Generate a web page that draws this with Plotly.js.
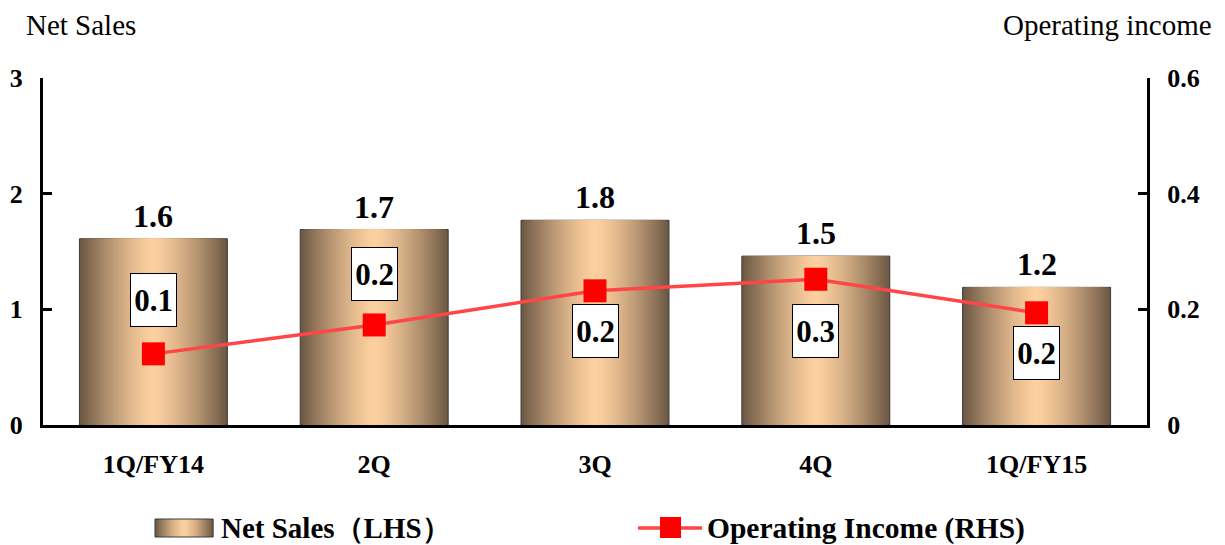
<!DOCTYPE html>
<html>
<head>
<meta charset="utf-8">
<script src="https://cdn.plot.ly/plotly-3.0.1.min.js"></script>
<style>
  html, body { margin: 0; padding: 0; background: #ffffff; }
  #chart { width: 1225px; height: 545px; }
</style>
</head>
<body>
<div id="chart"></div>
<script>
// Quarterly results
const categories = ['1Q/FY14', '2Q', '3Q', '4Q', '1Q/FY15'];
const netSales = [1.61, 1.69, 1.77, 1.46, 1.19];          // left axis
const operatingIncome = [0.123, 0.173, 0.232, 0.252, 0.194]; // right axis
const leftTicks = [0, 1, 2, 3];
const rightTicks = [0, 0.2, 0.4, 0.6];
const rightTickText = ['0', '0.2', '0.4', '0.6'];

// ---- styling ----
const SERIF = 'Liberation Serif, Times New Roman, serif';
const W = 1225, H = 545;
const M = { l: 43, r: 78, t: 78, b: 120 };
const PW = W - M.l - M.r, PH = H - M.t - M.b;
const BAR_W = 0.67;
const LAYERS = 37;
const LIGHT = [253, 208, 159];
const DARK = [106, 86, 66];

function shade(d) {
  const f = Math.pow(Math.min(Math.max(d, 0), 1), 1.35);
  const c = LIGHT.map((v, i) => Math.round(v + (DARK[i] - v) * f));
  return `rgb(${c[0]},${c[1]},${c[2]})`;
}
const fmt1 = v => (Math.round(v * 10) / 10).toFixed(1);
// pixel -> paper helpers for decorations placed around the plot
const px = x => (x - M.l) / PW;
const py = y => (M.t + PH - y) / PH;

// Cylinder-like bars: stacked overlays of narrowing width, lighter toward the centre
const traces = [];
for (let k = 0; k < LAYERS; k++) {
  const frac = 1 - k / LAYERS;
  traces.push({
    type: 'bar',
    x: categories,
    y: netSales,
    width: categories.map(() => BAR_W * frac),
    marker: {
      color: shade(frac - 0.5 / LAYERS),
      line: k === 0 ? { color: '#3a3a3a', width: 1 } : { width: 0 }
    },
    hoverinfo: 'skip',
    showlegend: false
  });
}

traces.push({
  type: 'scatter',
  mode: 'lines+markers',
  x: categories,
  y: operatingIncome,
  yaxis: 'y2',
  line: { color: '#ff4545', width: 3.5 },
  marker: { symbol: 'square', size: 23, color: '#ff0000', line: { width: 0 } },
  showlegend: false,
  cliponaxis: false
});

const annotations = [];

// net sales value above each bar
categories.forEach((c, i) => {
  annotations.push({
    x: c, y: netSales[i], xref: 'x', yref: 'y',
    text: fmt1(netSales[i]),
    showarrow: false, yanchor: 'bottom', yshift: 3,
    font: { family: SERIF, size: 32, weight: 'bold', color: '#000' }
  });
});

// operating income boxes, placed above or below each marker
const oiShift = [54, 51, -40, -52, -40];
categories.forEach((c, i) => {
  annotations.push({
    x: c, y: operatingIncome[i], xref: 'x', yref: 'y2',
    text: fmt1(operatingIncome[i]),
    showarrow: false, yanchor: 'middle', yshift: oiShift[i],
    width: 45, height: 52,
    bgcolor: '#ffffff', bordercolor: '#000000', borderwidth: 1, borderpad: 0,
    font: { family: SERIF, size: 31, weight: 'bold', color: '#000' }
  });
});

// axis captions
annotations.push({
  xref: 'paper', yref: 'paper', x: px(24), y: py(25),
  xanchor: 'left', yanchor: 'middle', showarrow: false,
  text: 'Net Sales',
  font: { family: SERIF, size: 29, color: '#000' }
});
annotations.push({
  xref: 'paper', yref: 'paper', x: px(1214), y: py(25),
  xanchor: 'right', yanchor: 'middle', showarrow: false,
  text: 'Operating income',
  font: { family: SERIF, size: 29, color: '#000' }
});

// legend
annotations.push({
  xref: 'paper', yref: 'paper', x: px(219), y: py(528),
  xanchor: 'left', yanchor: 'middle', showarrow: false,
  text: 'Net Sales（LHS）',
  font: { family: SERIF, size: 29, weight: 'bold', color: '#000' }
});
annotations.push({
  xref: 'paper', yref: 'paper', x: px(705), y: py(528),
  xanchor: 'left', yanchor: 'middle', showarrow: false,
  text: 'Operating Income (RHS)',
  font: { family: SERIF, size: 29.5, weight: 'bold', color: '#000' }
});

const shapes = [];
// gradient swatch
const sw = { x0: 155, x1: 213, y0: 519, y1: 537 };
const slices = 29;
const sliceW = (sw.x1 - sw.x0) / slices;
for (let s = 0; s < slices; s++) {
  const mid = sw.x0 + (s + 0.5) * sliceW;
  const d = Math.abs(mid - (sw.x0 + sw.x1) / 2) / ((sw.x1 - sw.x0) / 2);
  shapes.push({
    type: 'rect', xref: 'paper', yref: 'paper', layer: 'above',
    x0: px(sw.x0 + s * sliceW), x1: px(sw.x0 + (s + 1) * sliceW + 0.4),
    y0: py(sw.y1), y1: py(sw.y0),
    fillcolor: shade(d), line: { width: 0 }
  });
}
shapes.push({
  type: 'rect', xref: 'paper', yref: 'paper', layer: 'above',
  x0: px(sw.x0), x1: px(sw.x1), y0: py(sw.y1), y1: py(sw.y0),
  fillcolor: 'rgba(0,0,0,0)', line: { color: '#3a3a3a', width: 1 }
});
// line + marker swatch
shapes.push({
  type: 'line', xref: 'paper', yref: 'paper', layer: 'above',
  x0: px(638), x1: px(702), y0: py(528), y1: py(528),
  line: { color: '#ff4545', width: 3.5 }
});
shapes.push({
  type: 'rect', xref: 'paper', yref: 'paper', layer: 'above',
  x0: px(660), x1: px(681), y0: py(538), y1: py(517),
  fillcolor: '#ff0000', line: { width: 0 }
});

const axisFont = { family: SERIF, size: 26, weight: 'bold', color: '#000' };

const layout = {
  width: W, height: H,
  margin: M,
  paper_bgcolor: '#ffffff',
  plot_bgcolor: '#ffffff',
  barmode: 'overlay',
  showlegend: false,
  font: { family: SERIF },
  xaxis: {
    type: 'category',
    range: [-0.5, categories.length - 0.5],
    showline: true, linecolor: '#000', linewidth: 3,
    showgrid: false, zeroline: false,
    ticks: '', ticklabelstandoff: 14,
    tickfont: { family: SERIF, size: 26, weight: 'bold', color: '#000' },
    fixedrange: true
  },
  yaxis: {
    range: [0, 3],
    tickvals: leftTicks,
    showline: true, linecolor: '#000', linewidth: 3,
    showgrid: false, zeroline: false,
    ticks: 'inside', ticklen: 9, tickwidth: 3, tickcolor: '#000',
    ticklabelstandoff: 12,
    tickfont: axisFont,
    fixedrange: true
  },
  yaxis2: {
    range: [0, 0.6],
    overlaying: 'y', side: 'right',
    tickvals: rightTicks, ticktext: rightTickText,
    showline: true, linecolor: '#000', linewidth: 3,
    showgrid: false, zeroline: false,
    ticks: 'inside', ticklen: 9, tickwidth: 3, tickcolor: '#000',
    ticklabelstandoff: 12,
    tickfont: axisFont,
    fixedrange: true
  },
  annotations: annotations,
  shapes: shapes
};

Plotly.newPlot('chart', traces, layout, { displayModeBar: false, staticPlot: true });
</script>
</body>
</html>
